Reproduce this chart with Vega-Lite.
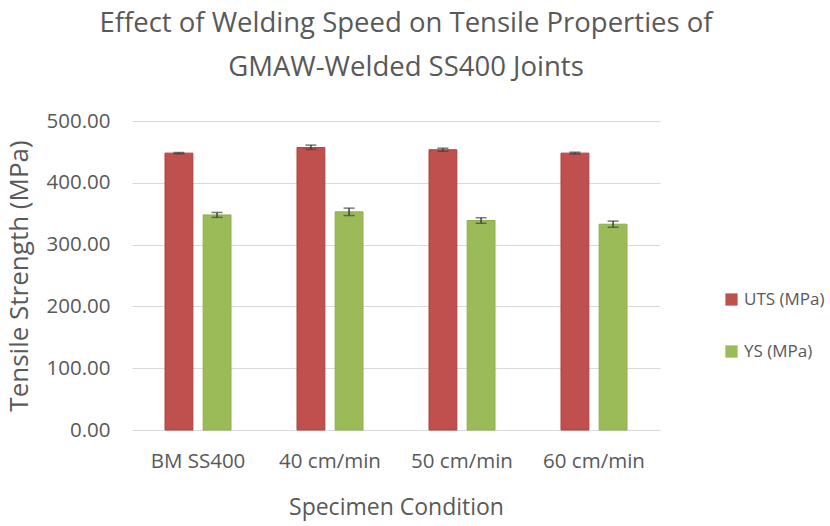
{
  "$schema": "https://vega.github.io/schema/vega-lite/v6.json",
  "autosize": {"type": "none"},
  "width": 528,
  "height": 309,
  "padding": {"left": 132, "top": 121, "right": 170, "bottom": 96},
  "background": "white",
  "title": {
    "text": ["Effect of Welding Speed on Tensile Properties of", "GMAW-Welded SS400 Joints"],
    "fontSize": 27.5,
    "font": "Open Sans",
    "fontWeight": "normal",
    "color": "#595959",
    "lineHeight": 44,
    "offset": 30,
    "anchor": "middle",
    "dx": 10
  },
  "data": {
    "values": [
      {"condition": "BM SS400", "series": "UTS (MPa)", "value": 448, "lo": 447, "hi": 449},
      {"condition": "BM SS400", "series": "YS (MPa)", "value": 348, "lo": 344, "hi": 352},
      {"condition": "40 cm/min", "series": "UTS (MPa)", "value": 457, "lo": 454, "hi": 461},
      {"condition": "40 cm/min", "series": "YS (MPa)", "value": 353, "lo": 347, "hi": 359},
      {"condition": "50 cm/min", "series": "UTS (MPa)", "value": 453.5, "lo": 451, "hi": 456},
      {"condition": "50 cm/min", "series": "YS (MPa)", "value": 339, "lo": 334.5, "hi": 343.5},
      {"condition": "60 cm/min", "series": "UTS (MPa)", "value": 448, "lo": 446.5, "hi": 449.5},
      {"condition": "60 cm/min", "series": "YS (MPa)", "value": 333, "lo": 328, "hi": 338}
    ]
  },
  "encoding": {
    "x": {
      "field": "condition",
      "type": "nominal",
      "sort": null,
      "title": "Specimen Condition",
      "scale": {"paddingInner": 0.5, "paddingOuter": 0.25},
      "axis": {
        "labelAngle": 0,
        "labelPadding": 21,
        "labelFontSize": 20.5,
        "ticks": false,
        "domain": false,
        "titleFontSize": 23,
        "titlePadding": 25
      }
    },
    "xOffset": {
      "field": "series",
      "type": "nominal",
      "scale": {"paddingInner": 0.27, "paddingOuter": 0}
    }
  },
  "layer": [
    {
      "mark": {"type": "bar", "strokeWidth": 1},
      "encoding": {
        "y": {
          "field": "value",
          "type": "quantitative",
          "title": "Tensile Strength (MPa)",
          "scale": {"domain": [0, 500]},
          "axis": {
            "values": [0, 100, 200, 300, 400, 500],
            "format": ".2f",
            "ticks": false,
            "domain": false,
            "labelFontSize": 20.5,
            "labelPadding": 22,
            "titleFontSize": 26,
            "titlePadding": 14
          }
        },
        "color": {
          "field": "series",
          "type": "nominal",
          "title": null,
          "scale": {"domain": ["UTS (MPa)", "YS (MPa)"], "range": ["#C0504D", "#9BBB59"]},
          "legend": {
            "symbolType": "square",
            "symbolSize": 150,
            "symbolStrokeWidth": 0,
            "labelFontSize": 17,
            "labelFont": "Open Sans",
            "labelColor": "#595959",
            "rowPadding": 34,
            "orient": "none",
            "legendX": 591,
            "legendY": 170
          }
        },
        "stroke": {
          "field": "series",
          "type": "nominal",
          "scale": {"domain": ["UTS (MPa)", "YS (MPa)"], "range": ["#B03E3B", "#8DAE4A"]},
          "legend": null
        }
      }
    },
    {
      "mark": {"type": "rule", "color": "#404040", "strokeWidth": 1.5},
      "encoding": {
        "y": {"field": "lo", "type": "quantitative"},
        "y2": {"field": "hi"}
      }
    },
    {
      "mark": {"type": "tick", "color": "#404040", "thickness": 1.5, "size": 11},
      "encoding": {"y": {"field": "lo", "type": "quantitative"}}
    },
    {
      "mark": {"type": "tick", "color": "#404040", "thickness": 1.5, "size": 11},
      "encoding": {"y": {"field": "hi", "type": "quantitative"}}
    }
  ],
  "config": {
    "view": {"stroke": null},
    "font": "Open Sans",
    "axis": {
      "grid": true,
      "gridColor": "#d9d9d9",
      "gridWidth": 1.2,
      "labelFont": "Open Sans",
      "labelColor": "#595959",
      "titleFont": "Open Sans",
      "titleFontWeight": "normal",
      "titleColor": "#595959"
    },
    "axisX": {"grid": false}
  }
}
